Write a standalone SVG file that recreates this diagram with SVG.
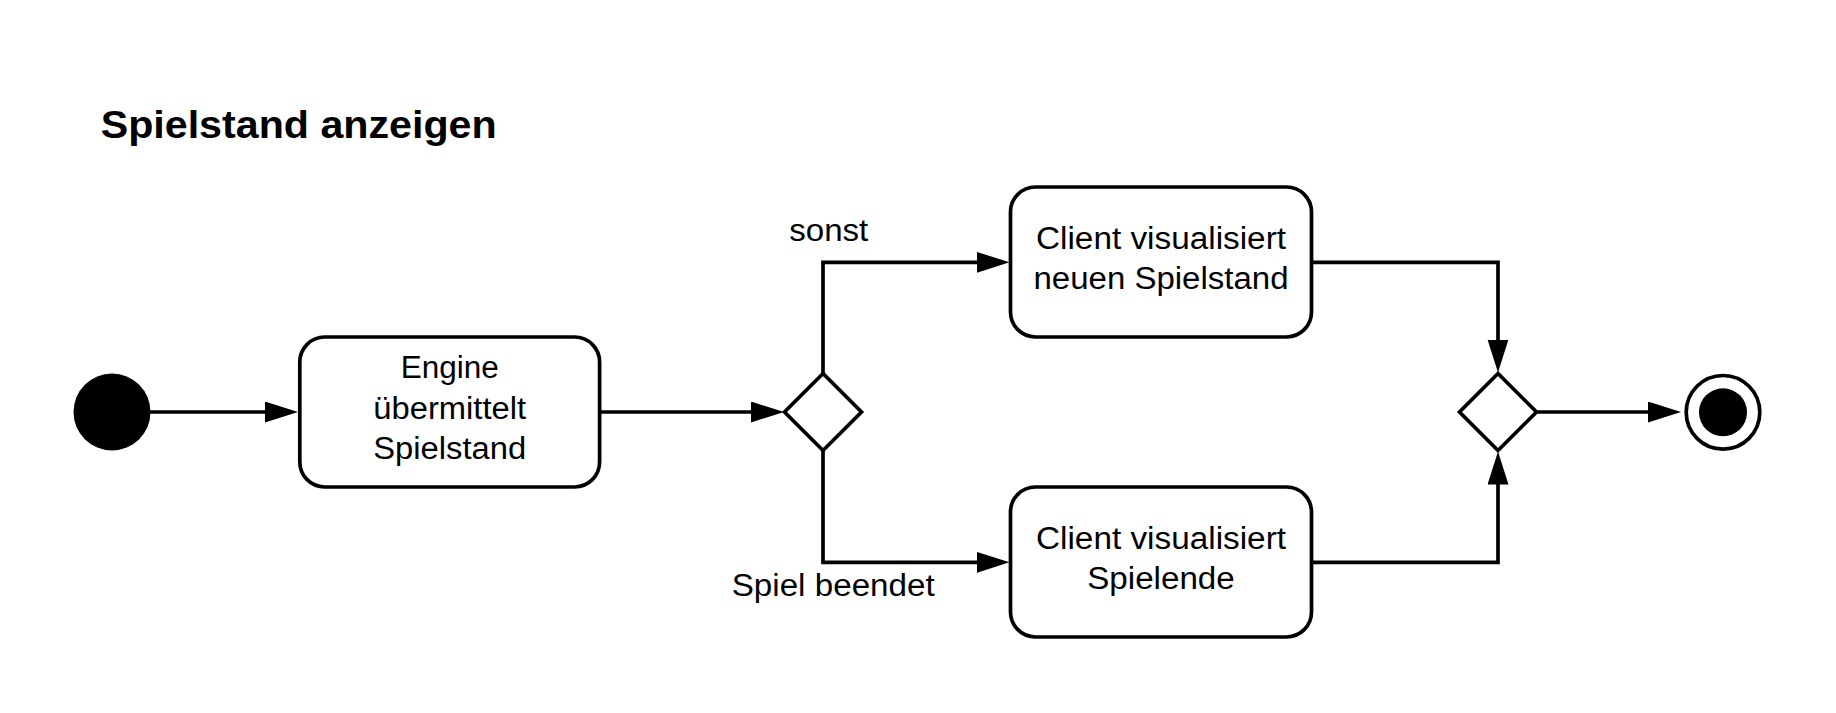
<svg xmlns="http://www.w3.org/2000/svg" width="1836" height="713" viewBox="0 0 1836 713">
<style>
.bg{fill:#ffffff}
.box{fill:#ffffff;stroke:#000000;stroke-width:3.7}
.dia{fill:#ffffff;stroke:#000000;stroke-width:3.7}
.con{fill:none;stroke:#000000;stroke-width:3.7}
.t{font-family:"Liberation Sans",Arial,sans-serif;font-size:31px;fill:#000000}
.c{text-anchor:middle}
.title{font-family:"Liberation Sans",Arial,sans-serif;font-size:38px;font-weight:bold;fill:#000000}
</style>
<defs>
<marker id="arr" markerUnits="userSpaceOnUse" markerWidth="34" markerHeight="22" refX="24" refY="10.5" orient="auto">
<path d="M0,0 L33,10.5 L0,21 Z" fill="#000000"/>
</marker>
</defs>
<rect class="bg" x="0" y="0" width="1836" height="713"/>
<text id="title" class="title" x="100.7" y="137.5" textLength="396" lengthAdjust="spacingAndGlyphs">Spielstand anzeigen</text>

<g id="connectors">
<path class="con" d="M150,412 L289,412" marker-end="url(#arr)"/>
<path class="con" d="M600,412 L775,412" marker-end="url(#arr)"/>
<path class="con" d="M823,373.5 L823,262.3 L1000.5,262.3" marker-end="url(#arr)"/>
<path class="con" d="M823,450.5 L823,562.3 L1000.5,562.3" marker-end="url(#arr)"/>
<path class="con" d="M1311.5,262.3 L1498,262.3 L1498,363.5" marker-end="url(#arr)"/>
<path class="con" d="M1311.5,562.3 L1498,562.3 L1498,460.5" marker-end="url(#arr)"/>
<path class="con" d="M1536.5,412 L1672,412" marker-end="url(#arr)"/>
</g>

<g id="start">
<circle cx="112" cy="412" r="38.5" fill="#000000"/>
</g>

<g id="engine">
<rect class="box" x="299.8" y="337" width="299.8" height="150" rx="25" ry="25"/>
<text class="t c" x="449.7" y="378.2" textLength="98" lengthAdjust="spacingAndGlyphs">Engine</text>
<text class="t c" x="449.7" y="419" textLength="152.7" lengthAdjust="spacingAndGlyphs">übermittelt</text>
<text class="t c" x="449.7" y="459.2" textLength="153" lengthAdjust="spacingAndGlyphs">Spielstand</text>
</g>

<g id="decision">
<path class="dia" d="M823,373.5 L861.5,412 L823,450.5 L784.5,412 Z"/>
</g>

<g id="label-sonst">
<text class="t" x="789.3" y="241.3" textLength="79" lengthAdjust="spacingAndGlyphs">sonst</text>
</g>
<g id="label-beendet">
<text class="t" x="731.7" y="596.3" textLength="203" lengthAdjust="spacingAndGlyphs">Spiel beendet</text>
</g>

<g id="client-spielstand">
<rect class="box" x="1010.5" y="187" width="301" height="150" rx="25" ry="25"/>
<text class="t c" x="1161" y="249.3" textLength="250" lengthAdjust="spacingAndGlyphs">Client visualisiert</text>
<text class="t c" x="1161" y="289.3" textLength="255" lengthAdjust="spacingAndGlyphs">neuen Spielstand</text>
</g>

<g id="client-spielende">
<rect class="box" x="1010.5" y="487" width="301" height="150" rx="25" ry="25"/>
<text class="t c" x="1161" y="549" textLength="250" lengthAdjust="spacingAndGlyphs">Client visualisiert</text>
<text class="t c" x="1161" y="589" textLength="147.5" lengthAdjust="spacingAndGlyphs">Spielende</text>
</g>

<g id="merge">
<path class="dia" d="M1498,373.5 L1536.5,412 L1498,450.5 L1459.5,412 Z"/>
</g>

<g id="end">
<circle cx="1723" cy="412.3" r="36.8" fill="#ffffff" stroke="#000000" stroke-width="3.7"/>
<circle cx="1723" cy="412.3" r="24" fill="#000000"/>
</g>
</svg>
